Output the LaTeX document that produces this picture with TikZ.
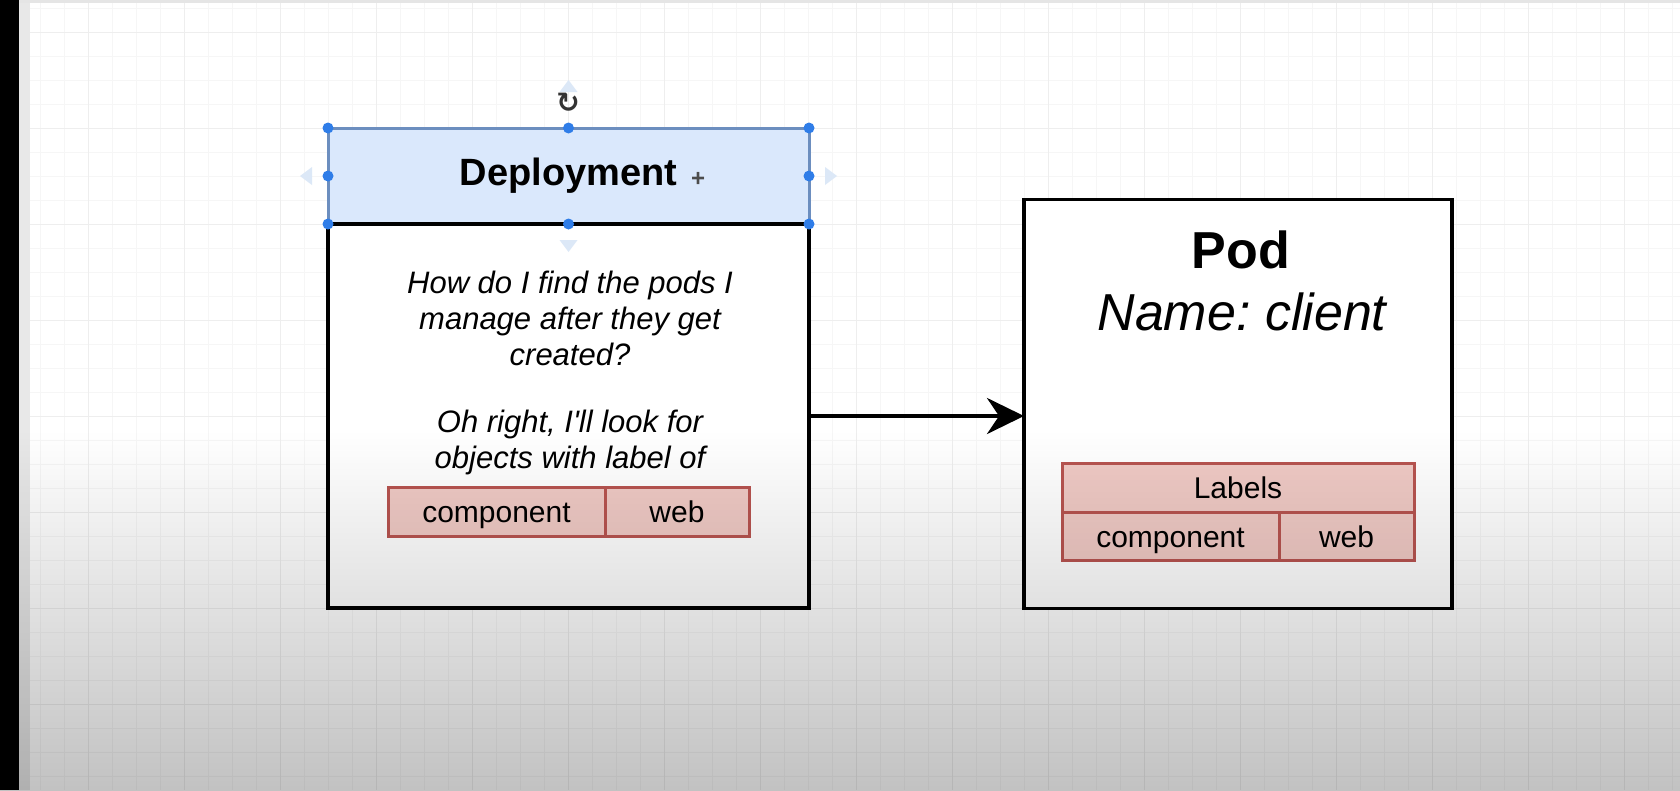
\documentclass[tikz,border=0pt]{standalone}
\usepackage{fontspec}
\setmainfont{Liberation Sans}
\newfontfamily\symfont{DejaVu Sans}
\usepackage{xcolor}
\usetikzlibrary{positioning,arrows.meta}
\frenchspacing

\definecolor{deplfill}{HTML}{DAE8FC}
\definecolor{deplline}{HTML}{6C8EBF}
\definecolor{handleblue}{HTML}{2F7DE8}
\definecolor{hintblue}{HTML}{DCE8F7}
\definecolor{lblfill}{RGB}{240,202,197}
\definecolor{lblline}{RGB}{184,84,80}
\definecolor{gridgray}{HTML}{F6F6F6}
\definecolor{gridmajor}{HTML}{EEEEEE}

\begin{document}
\begin{tikzpicture}[
    x=1pt, y=-1pt,
    box/.style={rectangle, draw, line width=3.5pt, fill=white, inner sep=0pt, outer sep=0pt},
    header/.style={box, draw=deplline, fill=deplfill, line width=3pt},
    lblcell/.style={rectangle, draw=lblline, fill=lblfill, line width=3pt, inner sep=0pt, outer sep=0pt,
        minimum height=49pt, text height=25pt, text depth=3pt, font=\fontsize{30}{36}\selectfont},
    handle/.style={fill=handleblue},
    hint/.style={fill=hintblue},
    minorline/.style={draw=gridgray, line width=1pt},
    majorline/.style={draw=gridmajor, line width=1pt},
    >={Stealth[length=37pt,width=36pt]}
]
\useasboundingbox (0,0) rectangle (1680,790);

% canvas
\fill[white] (0,0) rectangle (1680,790);
\foreach \gx in {40,64,...,1672} \draw[minorline] (\gx,0) -- (\gx,790);
\foreach \gy in {8,32,...,784} \draw[minorline] (30,\gy) -- (1680,\gy);
\foreach \gx in {88,184,...,1624} \draw[majorline] (\gx,0) -- (\gx,790);
\foreach \gy in {32,128,...,736} \draw[majorline] (30,\gy) -- (1680,\gy);
\fill[black] (0,0) rectangle (19,790);
\fill[black!9] (19,0) rectangle (30,790);
\fill[black!10] (19,0) rectangle (1680,3);

% Deployment
\node[header, minimum width=481pt, minimum height=96pt] (deploy) at (568.5,176)
    {\fontsize{38}{46}\selectfont\bfseries Deployment};
\node[box, minimum width=481pt, minimum height=384pt, below=0pt of deploy] (deploybody) {};
\node[font=\fontsize{31}{36}\selectfont\itshape, align=center] (question) at (570,373)
    {How do I find the pods I\\manage after they get\\created?\\[31pt]Oh right, I\textquotesingle ll look for\\objects with label of};
\node[lblcell, minimum width=217pt, anchor=north west] (dcomp) at (388,487) {component};
\node[lblcell, minimum width=144pt, right=0pt of dcomp] (dweb) {web};

% selection handles
\foreach \a in {north west,north,north east,east,south east,south,south west,west}
    \fill[handle] (deploy.\a) circle (5.5pt);
\fill[hint] (deploy.north) ++(-9,-36) -- ++(9,-12) -- ++(9,12) -- cycle;
\fill[hint] (deploy.south) ++(-9,16) -- ++(9,12) -- ++(9,-12) -- cycle;
\fill[hint] (deploy.west) ++(-16,-9) -- ++(-12,9) -- ++(12,9) -- cycle;
\fill[hint] (deploy.east) ++(16,-9) -- ++(12,9) -- ++(-12,9) -- cycle;
\node[font=\symfont\bfseries\fontsize{28}{28}\selectfont, text=black!80] (rotate) at (568,103) {↻};
\node[font=\bfseries\fontsize{24}{24}\selectfont, text=black!70] (cursor) at (698,179) {+};

% Pod
\node[box, minimum width=428pt, minimum height=409pt] (pod) at (1238,404) {};
\node[font=\fontsize{52}{62}\selectfont\bfseries] (podtitle) at (1241,250) {Pod};
\node[font=\fontsize{52}{62}\selectfont\itshape] (podname) at (1242,312) {Name: client};
\node[lblcell, minimum width=352pt, anchor=north west] (plabels) at (1062,463) {Labels};
\node[lblcell, minimum width=217pt, minimum height=48pt, anchor=north west] (pcomp) at (plabels.south west) {component};
\node[lblcell, minimum width=135pt, minimum height=48pt, right=0pt of pcomp] (pweb) {web};

% connector
\draw[->, line width=4pt] (deploybody.east) -- (deploybody.east -| pod.west);

% screen shading
\begin{scope}[blend mode=multiply]
\shade[top color=white, bottom color=black!24] (0,430) rectangle (1680,790);
\end{scope}

\end{tikzpicture}
\end{document}
